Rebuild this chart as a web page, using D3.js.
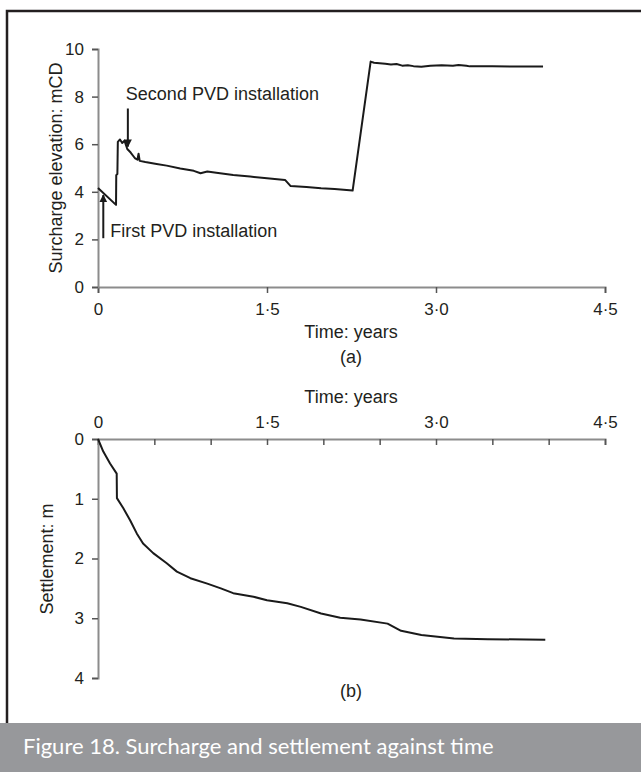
<!DOCTYPE html>
<html>
<head>
<meta charset="utf-8">
<script src="https://cdn.jsdelivr.net/npm/d3@7"></script>
<style>
	body { margin: 0; background: #fff; }
	svg text { font-family: 'Liberation Sans', Arial, sans-serif; fill: #231f20; }
</style>
</head>
<body>
<div id="graph"></div>
<script>
// Surcharge elevation (mCD) against time (years)
const surchargeTime = [0, 0.16, 0.162, 0.172, 0.176, 0.195, 0.215, 0.235, 0.26, 0.29, 0.33, 0.35, 0.36, 0.37, 0.42, 0.52, 0.61, 0.73, 0.85, 0.91, 0.97, 1.05, 1.2, 1.35, 1.5, 1.66, 1.71, 1.85, 1.98, 2.1, 2.26, 2.42, 2.45, 2.5, 2.55, 2.6, 2.65, 2.7, 2.75, 2.8, 2.87, 2.95, 3.05, 3.15, 3.2, 3.27, 3.3, 3.35, 3.5, 3.95];
const surchargeValue = [4.16, 3.45, 4.7, 4.75, 6.1, 6.2, 6.05, 6.15, 5.8, 5.65, 5.4, 5.35, 5.6, 5.3, 5.25, 5.17, 5.1, 4.98, 4.88, 4.78, 4.85, 4.8, 4.71, 4.64, 4.57, 4.5, 4.24, 4.2, 4.15, 4.12, 4.05, 9.47, 9.42, 9.4, 9.38, 9.35, 9.37, 9.3, 9.32, 9.28, 9.25, 9.3, 9.32, 9.3, 9.33, 9.3, 9.27, 9.28, 9.27, 9.26];

// Settlement (m) against time (years)
const settlementTime = [0, 0.047, 0.107, 0.166, 0.168, 0.225, 0.285, 0.344, 0.4, 0.49, 0.61, 0.7, 0.82, 0.97, 1.09, 1.2, 1.38, 1.5, 1.68, 1.8, 1.98, 2.15, 2.33, 2.57, 2.69, 2.87, 3.16, 3.46, 3.97];
const settlementValue = [0, 0.21, 0.41, 0.58, 0.99, 1.16, 1.36, 1.58, 1.75, 1.91, 2.08, 2.22, 2.33, 2.42, 2.5, 2.58, 2.64, 2.7, 2.75, 2.81, 2.92, 2.99, 3.02, 3.09, 3.21, 3.28, 3.34, 3.35, 3.36];

// Tick labels
const timeTicks = [0, 1.5, 3, 4.5];
const timeMinorTicks = [0, 0.5, 1, 1.5, 2, 2.5, 3, 3.5, 4, 4.5];
const surchargeTicks = [0, 2, 4, 6, 8, 10];
const settlementTicks = [0, 1, 2, 3, 4];

// Annotations
const annotations = [
	{ label: 'Second PVD installation', t: 0.265, from: 7.5, to: 5.9, textAt: 7.85, dx: -2 },
	{ label: 'First PVD installation', t: 0.047, from: 2.05, to: 3.86, textAt: 2.1, dx: 7 }
];

const caption = 'Figure 18. Surcharge and settlement against time';

const W = 641, H = 772;
const svg = d3.select('#graph').append('svg').attr('width', W).attr('height', H);

const fmt = (d) => (d === 0 ? '0' : d.toFixed(1).replace('.', '·'));

// Frame
svg.append('path')
	.attr('d', `M${W},11 H7 V723`)
	.attr('fill', 'none')
	.attr('stroke', '#231f20')
	.attr('stroke-width', 2.5);

// Shared time scale
const x = d3.scaleLinear().domain([0, 4.5]).range([98, 605]);

// ---- (a) Surcharge ----
const yA = d3.scaleLinear().domain([0, 10]).range([287, 49]);

const axA = svg.append('g').attr('transform', 'translate(0,287)')
	.call(d3.axisBottom(x).tickValues(timeTicks).tickFormat(fmt).tickSize(6).tickPadding(10));
const ayA = svg.append('g').attr('transform', 'translate(98,0)')
	.call(d3.axisLeft(yA).tickValues(surchargeTicks).tickSize(6).tickPadding(8));

svg.append('path')
	.datum(surchargeTime.map((t, i) => [t, surchargeValue[i]]))
	.attr('fill', 'none')
	.attr('stroke', '#1a1a1a')
	.attr('stroke-width', 2)
	.attr('stroke-linejoin', 'round')
	.attr('d', d3.line().x((d) => x(d[0])).y((d) => yA(d[1])));

svg.append('text').attr('x', 351).attr('y', 338).attr('text-anchor', 'middle')
	.style('font-size', '18px').text('Time: years');
svg.append('text').attr('x', 351).attr('y', 363).attr('text-anchor', 'middle')
	.style('font-size', '18px').text('(a)');
svg.append('text')
	.attr('transform', 'translate(62,168) rotate(-90)')
	.attr('text-anchor', 'middle')
	.style('font-size', '18px')
	.text('Surcharge elevation: mCD');

// Arrows
const defs = svg.append('defs');
defs.append('marker')
	.attr('id', 'arrow')
	.attr('viewBox', '0 0 10 10')
	.attr('refX', 9).attr('refY', 5)
	.attr('markerWidth', 4).attr('markerHeight', 5)
	.attr('orient', 'auto-start-reverse')
	.append('path').attr('d', 'M0,0 L10,5 L0,10 Z').attr('fill', '#1a1a1a');

annotations.forEach((a) => {
	svg.append('line')
		.attr('x1', x(a.t)).attr('x2', x(a.t))
		.attr('y1', yA(a.from)).attr('y2', yA(a.to))
		.attr('stroke', '#1a1a1a').attr('stroke-width', 2)
		.attr('marker-end', 'url(#arrow)');
	svg.append('text')
		.attr('x', x(a.t) + a.dx).attr('y', yA(a.textAt))
		.style('font-size', '18px')
		.text(a.label);
});

// ---- (b) Settlement ----
const yB = d3.scaleLinear().domain([0, 4]).range([439, 678]);

const axB = svg.append('g').attr('transform', 'translate(0,439)')
	.call(d3.axisTop(x).tickValues(timeMinorTicks)
		.tickFormat((d) => (timeTicks.includes(d) ? fmt(d) : ''))
		.tickSizeInner(-6).tickSizeOuter(-6).tickPadding(11));
const ayB = svg.append('g').attr('transform', 'translate(98,0)')
	.call(d3.axisLeft(yB).tickValues(settlementTicks).tickFormat(d3.format('d')).tickSize(6).tickPadding(8));

svg.append('path')
	.datum(settlementTime.map((t, i) => [t, settlementValue[i]]))
	.attr('fill', 'none')
	.attr('stroke', '#1a1a1a')
	.attr('stroke-width', 2)
	.attr('stroke-linejoin', 'round')
	.attr('d', d3.line().x((d) => x(d[0])).y((d) => yB(d[1])));

svg.append('text').attr('x', 351).attr('y', 403).attr('text-anchor', 'middle')
	.style('font-size', '18px').text('Time: years');
svg.append('text').attr('x', 351).attr('y', 697).attr('text-anchor', 'middle')
	.style('font-size', '18px').text('(b)');
svg.append('text')
	.attr('transform', 'translate(53,559) rotate(-90)')
	.attr('text-anchor', 'middle')
	.style('font-size', '18px')
	.text('Settlement: m');

// Axis styling
[axA, ayA, axB, ayB].forEach((g) => {
	g.select('.domain').attr('stroke', '#8c8c8c').attr('stroke-width', 2);
	g.selectAll('.tick line').attr('stroke', '#555').attr('stroke-width', 1.5);
	g.selectAll('.tick text').style('font-size', '17px').attr('fill', '#231f20')
		.style('font-family', "'Liberation Sans', Arial, sans-serif");
});

// Caption bar
svg.append('rect').attr('x', 0).attr('y', 723).attr('width', W).attr('height', H - 723)
	.attr('fill', '#97989b');
svg.append('text').attr('x', 23).attr('y', 754)
	.style('font-family', "Lato, 'Open Sans', sans-serif")
	.style('font-size', '22px')
	.style('fill', '#fff')
	.text(caption);
</script>
</body>
</html>
